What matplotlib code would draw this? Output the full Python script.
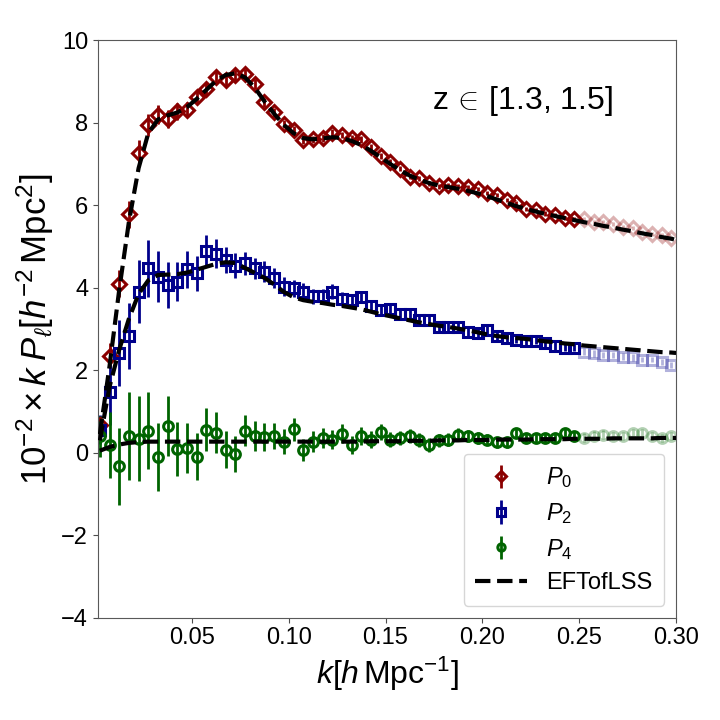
import numpy as np
import matplotlib
matplotlib.use('Agg')
import matplotlib.pyplot as plt

plt.rcParams['font.family'] = ['Liberation Sans', 'DejaVu Sans']
plt.rcParams['mathtext.fontset'] = 'custom'
plt.rcParams['mathtext.rm'] = 'Liberation Sans'
plt.rcParams['mathtext.it'] = 'Liberation Sans:italic'
plt.rcParams['mathtext.bf'] = 'Liberation Sans:bold'

# k bin centres, last 10 bins are outside the fit range (drawn faded)
k = np.arange(60) * 0.005 + 0.0025
n_fit = 50

p0 = [0.68, 2.35, 4.10, 5.78, 7.28, 7.94, 8.20, 8.10, 8.28, 8.32,
      8.62, 8.83, 9.10, 9.04, 9.15, 9.18, 8.95, 8.50, 8.26, 7.98,
      7.82, 7.58, 7.60, 7.63, 7.76, 7.70, 7.62, 7.60, 7.42, 7.19,
      7.05, 6.89, 6.69, 6.65, 6.53, 6.46, 6.49, 6.46, 6.45, 6.40,
      6.30, 6.25, 6.13, 6.05, 5.92, 5.88, 5.80, 5.76, 5.70, 5.66,
      5.66, 5.60, 5.60, 5.54, 5.48, 5.44, 5.36, 5.30, 5.28, 5.20]
p0_err = [0.20, 0.30, 0.32, 0.32, 0.30, 0.27, 0.24, 0.22, 0.20, 0.18,
          0.17, 0.16, 0.15, 0.14, 0.13, 0.12, 0.12, 0.11, 0.11, 0.10,
          0.10, 0.09, 0.09, 0.09, 0.08, 0.08, 0.08, 0.08, 0.07, 0.07,
          0.07, 0.07, 0.06, 0.06, 0.06, 0.06, 0.06, 0.06, 0.05, 0.05,
          0.05, 0.05, 0.05, 0.05, 0.05, 0.05, 0.05, 0.05, 0.05, 0.05,
          0.05, 0.05, 0.05, 0.05, 0.05, 0.05, 0.05, 0.05, 0.05, 0.05]

p2 = [0.56, 1.48, 2.43, 2.82, 3.91, 4.47, 4.27, 4.07, 4.15, 4.45,
      4.35, 4.90, 4.83, 4.67, 4.54, 4.59, 4.47, 4.39, 4.23, 4.03,
      3.99, 3.91, 3.79, 3.80, 3.91, 3.73, 3.70, 3.77, 3.56, 3.46,
      3.48, 3.37, 3.37, 3.22, 3.22, 3.06, 3.06, 3.06, 2.94, 2.90,
      2.98, 2.82, 2.78, 2.74, 2.70, 2.72, 2.66, 2.59, 2.55, 2.55,
      2.45, 2.41, 2.37, 2.37, 2.33, 2.31, 2.26, 2.26, 2.21, 2.13]
p2_err = [0.35, 0.80, 0.80, 0.80, 0.77, 0.70, 0.62, 0.55, 0.48, 0.45,
          0.42, 0.38, 0.35, 0.32, 0.30, 0.28, 0.26, 0.25, 0.24, 0.22,
          0.21, 0.20, 0.19, 0.18, 0.17, 0.17, 0.16, 0.15, 0.15, 0.14,
          0.14, 0.13, 0.13, 0.12, 0.12, 0.12, 0.11, 0.11, 0.11, 0.10,
          0.10, 0.10, 0.10, 0.09, 0.09, 0.09, 0.09, 0.09, 0.08, 0.08,
          0.08, 0.08, 0.08, 0.08, 0.08, 0.08, 0.07, 0.07, 0.07, 0.07]

p4 = [0.40, 0.19, -0.33, 0.40, 0.34, 0.54, -0.10, 0.64, 0.09, 0.12,
      -0.10, 0.56, 0.49, 0.07, -0.03, 0.54, 0.40, 0.38, 0.40, 0.27,
      0.57, 0.06, 0.27, 0.36, 0.32, 0.46, 0.19, 0.41, 0.32, 0.50,
      0.32, 0.36, 0.40, 0.32, 0.19, 0.30, 0.32, 0.44, 0.41, 0.36,
      0.32, 0.25, 0.25, 0.48, 0.36, 0.36, 0.36, 0.36, 0.48, 0.40,
      0.36, 0.41, 0.44, 0.41, 0.41, 0.48, 0.48, 0.40, 0.36, 0.40]
p4_err = [0.50, 0.80, 0.93, 1.07, 1.03, 0.93, 0.83, 0.73, 0.65, 0.60,
          0.57, 0.52, 0.50, 0.45, 0.44, 0.38, 0.36, 0.34, 0.32, 0.30,
          0.28, 0.27, 0.26, 0.25, 0.24, 0.23, 0.22, 0.21, 0.20, 0.19,
          0.18, 0.18, 0.17, 0.17, 0.16, 0.16, 0.15, 0.15, 0.14, 0.14,
          0.14, 0.13, 0.13, 0.13, 0.12, 0.12, 0.12, 0.12, 0.11, 0.11,
          0.11, 0.11, 0.11, 0.10, 0.10, 0.10, 0.10, 0.10, 0.10, 0.10]

# EFTofLSS best fit, on the bin centres plus the k = 0.30 end point
k_model = np.append(k, 0.30)
m0 = [0.45, 2.10, 3.95, 5.60, 6.90, 7.75, 8.08, 8.18, 8.25, 8.38,
      8.58, 8.80, 9.02, 9.16, 9.20, 9.10, 8.85, 8.52, 8.22, 7.95,
      7.75, 7.63, 7.60, 7.62, 7.65, 7.63, 7.56, 7.46, 7.32, 7.16,
      7.00, 6.85, 6.72, 6.62, 6.54, 6.48, 6.44, 6.40, 6.35, 6.29,
      6.22, 6.14, 6.06, 5.98, 5.91, 5.85, 5.79, 5.74, 5.69, 5.64,
      5.59, 5.55, 5.50, 5.46, 5.41, 5.37, 5.32, 5.28, 5.23, 5.19, 5.16]
m2 = [0.30, 1.60, 2.50, 3.25, 3.85, 4.18, 4.31, 4.32, 4.33, 4.37,
      4.44, 4.51, 4.58, 4.62, 4.60, 4.48, 4.36, 4.24, 4.08, 3.90,
      3.77, 3.70, 3.66, 3.63, 3.59, 3.56, 3.52, 3.48, 3.42, 3.36,
      3.31, 3.26, 3.21, 3.16, 3.12, 3.08, 3.05, 3.01, 2.97, 2.92,
      2.87, 2.83, 2.80, 2.78, 2.76, 2.73, 2.70, 2.68, 2.65, 2.63,
      2.60, 2.58, 2.56, 2.54, 2.52, 2.50, 2.48, 2.46, 2.44, 2.43, 2.42]
m4 = [0.05, 0.14, 0.20, 0.24, 0.26, 0.27, 0.27, 0.27, 0.27, 0.27,
      0.27, 0.27, 0.27, 0.27, 0.27, 0.27, 0.27, 0.27, 0.27, 0.27,
      0.27, 0.27, 0.27, 0.27, 0.27, 0.27, 0.27, 0.27, 0.28, 0.28,
      0.28, 0.28, 0.29, 0.29, 0.29, 0.30, 0.30, 0.30, 0.31, 0.31,
      0.31, 0.32, 0.32, 0.32, 0.32, 0.33, 0.33, 0.33, 0.33, 0.34,
      0.34, 0.34, 0.34, 0.35, 0.35, 0.35, 0.35, 0.35, 0.36, 0.36, 0.36]

series = [(p0, p0_err, 'D', 'darkred', r'$P_0$'),
          (p2, p2_err, 's', 'darkblue', r'$P_2$'),
          (p4, p4_err, 'o', 'darkgreen', r'$P_4$')]

fig = plt.figure(figsize=(7.2, 7.2), dpi=100)
ax = fig.add_axes([0.136, 0.142, 0.803, 0.802])

handles = []
for y, e, mk, c, lab in series:
    y = np.array(y)
    e = np.array(e)
    h = ax.errorbar(k[:n_fit], y[:n_fit], yerr=e[:n_fit], fmt=mk, color=c,
                    mfc='none', mec=c, ms=7, mew=2.2, elinewidth=2, capsize=0,
                    label=lab, zorder=2)
    handles.append(h)
    ax.errorbar(k[n_fit:], y[n_fit:], yerr=e[n_fit:], fmt=mk, color=c,
                mfc='none', mec=c, ms=7, mew=2.2, elinewidth=2, capsize=0,
                alpha=0.3, zorder=2)

for j, m in enumerate([m0, m2, m4]):
    ln, = ax.plot(k_model, m, color='black', ls='--', lw=3, zorder=3,
                  label='EFTofLSS')
    if j == 0:
        handles.append(ln)

ax.set_xlim(0.0015, 0.30)
ax.set_ylim(-4, 10)
ax.set_xticks([0.05, 0.10, 0.15, 0.20, 0.25, 0.30])
ax.set_xticklabels(['0.05', '0.10', '0.15', '0.20', '0.25', '0.30'])
ax.set_yticks(range(-4, 11, 2))
ax.tick_params(labelsize=17, color='0.3')
for sp in ax.spines.values():
    sp.set_color('0.35')
ax.set_xlabel(r'$k[h\,{\rm Mpc}^{-1}]$', fontsize=23, labelpad=4)
ax.set_ylabel(r'$10^{-2}\times k\;P_\ell[h^{-2}\,{\rm Mpc}^2]$', fontsize=25,
              labelpad=4)
ax.text(0.578, 0.895, r'z$\,\in\,$[1.3, 1.5]', transform=ax.transAxes,
        fontsize=23, ha='left', va='center')

ax.legend(handles=handles, loc='lower right', fontsize=17, handlelength=2.2,
          borderaxespad=0.5, labelspacing=0.45, borderpad=0.5,
          markerscale=0.75)

fig.savefig('out.png', dpi=100)
